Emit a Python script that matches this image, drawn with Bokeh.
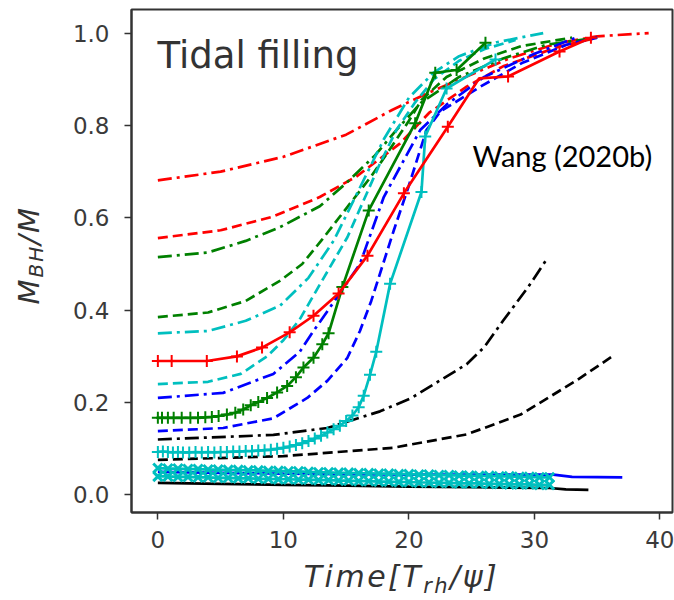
from bokeh.plotting import figure
from bokeh.models import Label, Range1d, FixedTicker, NumeralTickFormatter, Div
from bokeh.layouts import row, column
from bokeh.embed import file_html
from bokeh.resources import INLINE

# ---------------- data ----------------
x_ticks = [0, 10, 20, 30, 40]
y_ticks = [0.0, 0.2, 0.4, 0.6, 0.8, 1.0]

red_dashdot_x = [0, 5, 10, 15, 18.7, 21.5, 24.6, 28, 31.9, 35, 39.1]
red_dashdot_y = [0.681, 0.70, 0.732, 0.78, 0.834, 0.87, 0.906, 0.945, 0.978, 0.993, 1.0]

red_dashed_x = [0, 5, 9.1, 12.9, 15.8, 19.3, 21.6, 24.6, 27.5, 31.9, 35]
red_dashed_y = [0.556, 0.573, 0.602, 0.645, 0.689, 0.761, 0.827, 0.884, 0.928, 0.97, 0.99]

green_dashdot_x = [0, 4, 7, 9.75, 12.9, 15, 17.3, 19, 21, 24, 27.5, 31, 35]
green_dashdot_y = [0.515, 0.525, 0.55, 0.58, 0.625, 0.675, 0.735, 0.79, 0.85, 0.905, 0.945, 0.975, 0.99]

green_dashed_x = [0, 4, 7, 9.75, 11.5, 13, 15, 17, 18.4, 20, 21, 23, 26, 29, 33]
green_dashed_y = [0.385, 0.395, 0.42, 0.464, 0.50, 0.55, 0.62, 0.69, 0.745, 0.81, 0.855, 0.905, 0.945, 0.972, 0.99]

cyan_dashdot_x = [0, 4, 7, 9.75, 12, 14, 16, 18, 20, 22, 24, 27, 30.7]
cyan_dashdot_y = [0.35, 0.355, 0.377, 0.41, 0.47, 0.55, 0.66, 0.77, 0.86, 0.915, 0.95, 0.98, 1.0]

cyan_dashed_x = [0, 4, 6.6, 8.7, 10, 11.3, 13, 15.1, 17.7, 19, 20.5, 22, 24, 26, 28.5]
cyan_dashed_y = [0.24, 0.245, 0.262, 0.30, 0.335, 0.38, 0.46, 0.558, 0.718, 0.79, 0.85, 0.9, 0.94, 0.965, 0.985]

blue_dashdot_x = [0, 5.2, 9.2, 11.3, 12.4, 14, 16.1, 18, 20.9, 23, 26, 30, 33.3]
blue_dashdot_y = [0.21, 0.221, 0.262, 0.31, 0.355, 0.417, 0.50, 0.645, 0.79, 0.845, 0.905, 0.955, 0.99]

blue_dashed_x = [0, 5.2, 9.2, 11.9, 13.5, 15.1, 16.1, 17, 18.8, 20, 21.4, 22.5, 25.7, 29, 32.6, 35]
blue_dashed_y = [0.138, 0.145, 0.166, 0.21, 0.247, 0.297, 0.355, 0.42, 0.573, 0.67, 0.79, 0.83, 0.884, 0.935, 0.975, 0.99]

black_dashdot_x = [0, 9.2, 13.5, 17.7, 20.2, 22, 24.6, 26, 27.5, 28.4, 29.5, 31]
black_dashdot_y = [0.12, 0.13, 0.145, 0.181, 0.21, 0.24, 0.283, 0.32, 0.377, 0.41, 0.45, 0.511]

black_dashed_x = [0, 10, 18.7, 24.6, 28.9, 33.3, 36.2]
black_dashed_y = [0.076, 0.084, 0.102, 0.131, 0.174, 0.247, 0.30]

red_solid_x = [0, 1.1, 3.9, 6.3, 8.3, 10.5, 12.4, 14.4, 16.7, 19.6, 23.1, 25.6, 27.9, 32.0, 34.5]
red_solid_y = [0.29, 0.29, 0.29, 0.30, 0.319, 0.352, 0.388, 0.436, 0.518, 0.653, 0.797, 0.902, 0.906, 0.96, 0.99]
red_mark_x = [0, 1.1, 3.9, 6.3, 8.3, 10.5, 12.4, 14.4, 16.7, 19.6, 23.1, 27.9, 32.0, 34.5]
red_mark_y = [0.29, 0.29, 0.29, 0.30, 0.319, 0.352, 0.388, 0.436, 0.518, 0.653, 0.797, 0.906, 0.96, 0.99]

green_solid_x = [0, 0.33, 0.8, 1.26, 1.9, 2.59, 3.2, 3.78, 4.3, 4.84, 5.5, 6.17, 6.8, 7.4, 8.0,
                 8.7, 9.5, 10.3, 11.0, 11.6, 12.4, 13.1, 13.6, 14.7, 16.8, 20.5, 22.1, 23.8, 26.1]
green_solid_y = [0.167, 0.167, 0.167, 0.167, 0.167, 0.167, 0.167, 0.168, 0.169, 0.171, 0.174, 0.178,
                 0.185, 0.194, 0.201, 0.21, 0.222, 0.236, 0.255, 0.276, 0.297, 0.326, 0.35, 0.45,
                 0.616, 0.805, 0.914, 0.92, 0.979]

cyan_solid_x = [0, 0.4, 0.8, 1.2, 1.6, 2.0, 2.5, 3.0, 3.5, 4.0, 4.5, 5.0, 5.5, 6.0, 6.5, 7.0, 7.5,
                8.0, 8.5, 9.0, 9.5, 10.0, 10.5, 11.0, 11.5, 12.0, 12.5, 13.0, 13.5, 14.0, 14.5,
                15.0, 15.5, 16.0, 16.4, 16.9, 17.4, 18.5, 21.0, 21.3, 23.0, 26.9]
cyan_solid_y = [0.093, 0.094, 0.093, 0.092, 0.093, 0.092, 0.092, 0.093, 0.092, 0.093, 0.092, 0.093,
                0.093, 0.094, 0.094, 0.095, 0.095, 0.096, 0.097, 0.098, 0.1, 0.102, 0.105, 0.108,
                0.112, 0.117, 0.122, 0.128, 0.135, 0.142, 0.15, 0.16, 0.172, 0.19, 0.215, 0.26,
                0.31, 0.457, 0.656, 0.776, 0.88, 0.943]

bottom_x = [0, 0.8, 1.6, 2.4, 3.2, 4, 4.8, 5.6, 6.4, 7.2, 8, 8.8, 9.6, 10.4, 11.2, 12, 12.8, 13.6,
            14.4, 15.2, 16, 16.8, 17.6, 18.4, 19.2, 20, 20.8, 21.6, 22.4, 23.2, 24, 24.8, 25.6,
            26.4, 27.2, 28, 28.8, 29.6, 30.4, 31.2]
cyan_low_a_y = [0.058, 0.057, 0.057, 0.056, 0.056, 0.055, 0.055, 0.054, 0.054, 0.053, 0.053, 0.052,
                0.052, 0.051, 0.051, 0.050, 0.049, 0.049, 0.048, 0.048, 0.047, 0.047, 0.046, 0.046,
                0.045, 0.045, 0.044, 0.044, 0.043, 0.043, 0.042, 0.042, 0.041, 0.041, 0.040, 0.040,
                0.039, 0.039, 0.038, 0.038]
cyan_low_b_y = [0.040, 0.040, 0.039, 0.039, 0.038, 0.038, 0.037, 0.037, 0.036, 0.036, 0.035, 0.035,
                0.034, 0.034, 0.033, 0.033, 0.032, 0.032, 0.031, 0.031, 0.030, 0.030, 0.029, 0.029,
                0.028, 0.028, 0.027, 0.027, 0.026, 0.026, 0.025, 0.025, 0.025, 0.024, 0.024, 0.023,
                0.023, 0.023, 0.022, 0.022]

blue_solid_x = [0, 5, 10, 15, 20, 25, 31.5, 33, 37]
blue_solid_y = [0.05, 0.048, 0.046, 0.045, 0.044, 0.044, 0.044, 0.039, 0.038]

black_solid_x = [0, 5, 10, 15, 20, 25, 31.2, 32.5, 34.3]
black_solid_y = [0.026, 0.024, 0.022, 0.02, 0.018, 0.017, 0.015, 0.012, 0.011]

RED, GREEN, CYAN, BLUE, BLACK = "#ff0000", "#008000", "#00bfbf", "#0000ff", "#000000"
DASH = "10 5"
DASHDOT = "14 5 3 5"
LW = 2.7
AX = "#333333"

YLAB_W = 60
p = figure(width=674 - YLAB_W, height=560, output_backend="svg", toolbar_location=None,
           x_range=Range1d(-2.1, 41.0), y_range=Range1d(-0.038, 1.051),
           min_border_left=131 - YLAB_W, min_border_right=2, min_border_top=9, min_border_bottom=48)
p.background_fill_color = "white"
p.border_fill_color = "white"
p.xgrid.visible = False
p.ygrid.visible = False
p.outline_line_color = AX
p.outline_line_width = 2

for ax, ticks in ((p.xaxis, x_ticks), (p.yaxis, y_ticks)):
    ax.ticker = FixedTicker(ticks=ticks)
    ax.axis_line_color = AX
    ax.axis_line_width = 2
    ax.major_tick_line_color = AX
    ax.major_tick_line_width = 1.5
    ax.major_tick_out = 7
    ax.major_tick_in = 0
    ax.minor_tick_line_color = None
    ax.major_label_text_font = "DejaVu Sans"
    ax.major_label_text_font_size = "23px"
    ax.major_label_text_color = "#3a3a3a"
    ax.axis_label = None
p.xaxis.major_label_standoff = 11
p.yaxis.major_label_standoff = 15
p.yaxis.formatter = NumeralTickFormatter(format="0.0")

# dashed / dash-dot curves
p.line(red_dashdot_x, red_dashdot_y, color=RED, line_width=LW, line_dash=DASHDOT)
p.line(red_dashed_x, red_dashed_y, color=RED, line_width=LW, line_dash=DASH)
p.line(green_dashdot_x, green_dashdot_y, color=GREEN, line_width=LW, line_dash=DASHDOT)
p.line(green_dashed_x, green_dashed_y, color=GREEN, line_width=LW, line_dash=DASH)
p.line(cyan_dashdot_x, cyan_dashdot_y, color=CYAN, line_width=LW, line_dash=DASHDOT)
p.line(cyan_dashed_x, cyan_dashed_y, color=CYAN, line_width=LW, line_dash=DASH)
p.line(blue_dashdot_x, blue_dashdot_y, color=BLUE, line_width=LW, line_dash=DASHDOT)
p.line(blue_dashed_x, blue_dashed_y, color=BLUE, line_width=LW, line_dash=DASH)
p.line(black_dashdot_x, black_dashdot_y, color=BLACK, line_width=LW, line_dash=DASHDOT)
p.line(black_dashed_x, black_dashed_y, color=BLACK, line_width=LW, line_dash=DASH)

# bottom solid curves
p.line(blue_solid_x, blue_solid_y, color=BLUE, line_width=LW)
p.line(black_solid_x, black_solid_y, color=BLACK, line_width=LW)
p.line(bottom_x, cyan_low_a_y, color=CYAN, line_width=LW)
p.scatter(bottom_x, cyan_low_a_y, marker="x", size=13, line_color=CYAN, line_width=3)
p.line(bottom_x, cyan_low_b_y, color=CYAN, line_width=LW)
p.scatter(bottom_x, cyan_low_b_y, marker="x", size=13, line_color=CYAN, line_width=3)

# solid curves with + markers
for lx, ly, mx, my, c in ((cyan_solid_x, cyan_solid_y, cyan_solid_x, cyan_solid_y, CYAN),
                          (green_solid_x, green_solid_y, green_solid_x, green_solid_y, GREEN),
                          (red_solid_x, red_solid_y, red_mark_x, red_mark_y, RED)):
    p.line(lx, ly, color=c, line_width=LW)
    p.scatter(mx, my, marker="cross", size=12, line_color=c, line_width=2)

# in-plot texts
p.add_layout(Label(x=26, y=457, x_units="screen", y_units="screen", text="Tidal filling",
                   text_font="DejaVu Sans", text_font_size="37px", text_color="#333333",
                   text_baseline="alphabetic"))
p.add_layout(Label(x=341, y=357, x_units="screen", y_units="screen", text="Wang (2020b)",
                   text_font="Lato", text_font_size="29px", text_color="#000000",
                   text_baseline="alphabetic"))

# axis labels as HTML (italic math-like with subscripts)
xlab = Div(width=674 - YLAB_W, height=40, margin=0, text=(
    '<div style="width:683px;text-align:center;margin-top:2px;white-space:nowrap;letter-spacing:2.5px;'
    'font-family:\'DejaVu Sans\';font-style:italic;font-size:30px;line-height:30px;color:#333333;">'
    'Time[T<span style="font-size:21px;position:relative;top:6px;">rh</span>/\u03c8]</div>'))
ylab = Div(width=YLAB_W, height=600, margin=0, text=(
    '<div style="width:60px;height:510px;display:flex;align-items:center;justify-content:center;">'
    '<span style="writing-mode:vertical-rl;transform:rotate(180deg);white-space:nowrap;letter-spacing:2px;'
    'font-family:\'DejaVu Sans\';font-style:italic;font-size:29px;color:#333333;">'
    'M<span style="font-size:20px;position:relative;left:-7px;">BH</span>/M</span></div>'))

layout = row(ylab, column(p, xlab, spacing=0), spacing=0)

open("out.html", "w").write(file_html(layout, INLINE))
